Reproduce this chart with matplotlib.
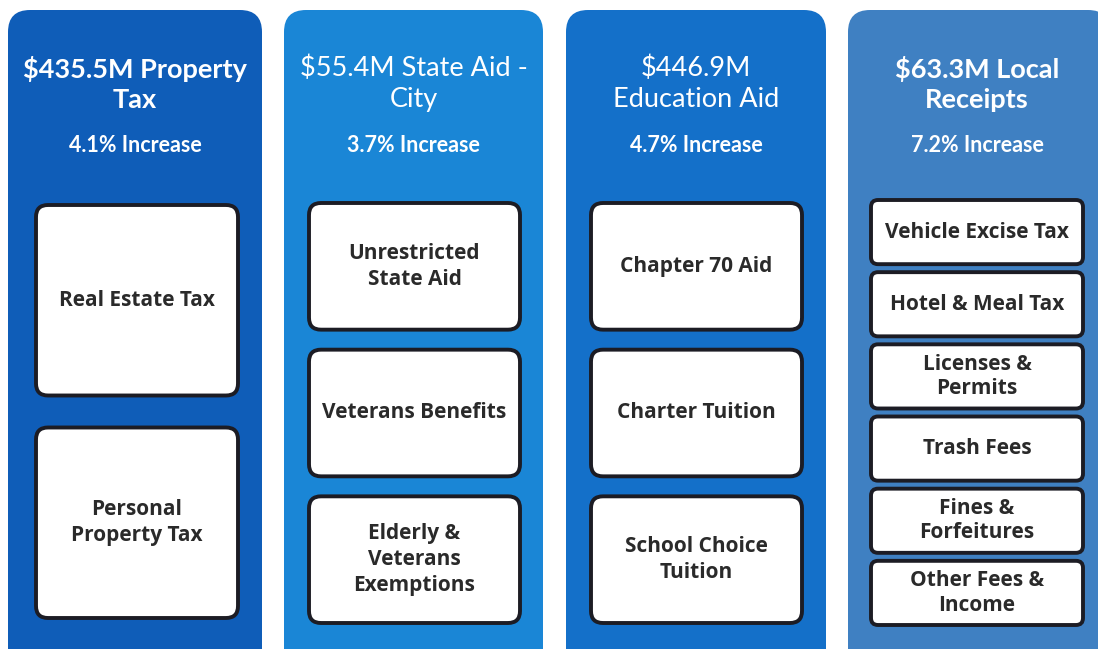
import matplotlib
matplotlib.use("Agg")
import matplotlib.pyplot as plt
from matplotlib.patches import FancyBboxPatch

# Data
titles = ["$435.5M Property\nTax", "$55.4M State Aid -\nCity", "$446.9M\nEducation Aid", "$63.3M Local\nReceipts"]
increases = ["4.1% Increase", "3.7% Increase", "4.7% Increase", "7.2% Increase"]
items_property = ["Real Estate Tax", "Personal\nProperty Tax"]
items_state = ["Unrestricted\nState Aid", "Veterans Benefits", "Elderly &\nVeterans\nExemptions"]
items_education = ["Chapter 70 Aid", "Charter Tuition", "School Choice\nTuition"]
items_local = ["Vehicle Excise Tax", "Hotel & Meal Tax", "Licenses &\nPermits", "Trash Fees",
               "Fines &\nForfeitures", "Other Fees &\nIncome"]
items = [items_property, items_state, items_education, items_local]

# Styles / layout
col_colors = ["#0F5DB8", "#1A86D6", "#1470C9", "#3F80C2"]
title_weights = ["bold", "normal", "normal", "bold"]
col_x = [(8, 262), (284, 543), (566, 826), (848, 1110)]
box_x = [(36, 238), (309, 520), (591, 802), (871, 1083)]
box_top = [205, 203, 203, 200]
box_bottom = [618, 623, 623, 625]
gaps = [32, 20, 20, 8]
box_fs = [15, 15, 15, 15]
box_ls = [1.3, 1.3, 1.3, 1.2]

W, H = 1098, 649
fig = plt.figure(figsize=(W / 100, H / 100), dpi=100)
ax = fig.add_axes([0, 0, 1, 1])
ax.set_xlim(0, W)
ax.set_ylim(H, 0)
ax.axis("off")
fig.patch.set_facecolor("white")

tfont = "Lato"
bfont = "Open Sans"
for i in range(4):
    x0, x1 = col_x[i]
    col = FancyBboxPatch((x0 + 22, 10 + 22), x1 - x0 - 44, 700,
                         boxstyle="round,pad=22", fc=col_colors[i], ec="none")
    ax.add_patch(col)
    cx = (x0 + x1) / 2 if i < 3 else 977
    ax.text(cx, 84, titles[i], color="white", fontsize=19.5, ha="center", va="center",
            family=tfont, fontweight=title_weights[i], linespacing=1.3)
    ax.text(cx, 145, increases[i], color="white", fontsize=15.5, fontweight="bold",
            ha="center", va="center", family=tfont)
    n = len(items[i])
    bx0, bx1 = box_x[i]
    total = box_bottom[i] - box_top[i]
    bh = (total - gaps[i] * (n - 1)) / n
    r = 12 if i < 3 else 7
    for j, label in enumerate(items[i]):
        y0 = box_top[i] + j * (bh + gaps[i])
        p = FancyBboxPatch((bx0 + r, y0 + r), bx1 - bx0 - 2 * r, bh - 2 * r,
                           boxstyle=f"round,pad={r}", fc="white", ec="#1c1c24", lw=2.8)
        ax.add_patch(p)
        ax.text((bx0 + bx1) / 2, y0 + bh / 2, label, color="#2a2a2a", fontsize=box_fs[i],
                fontweight="bold", ha="center", va="center", family=bfont,
                linespacing=box_ls[i])

fig.savefig("out.png", dpi=100)
